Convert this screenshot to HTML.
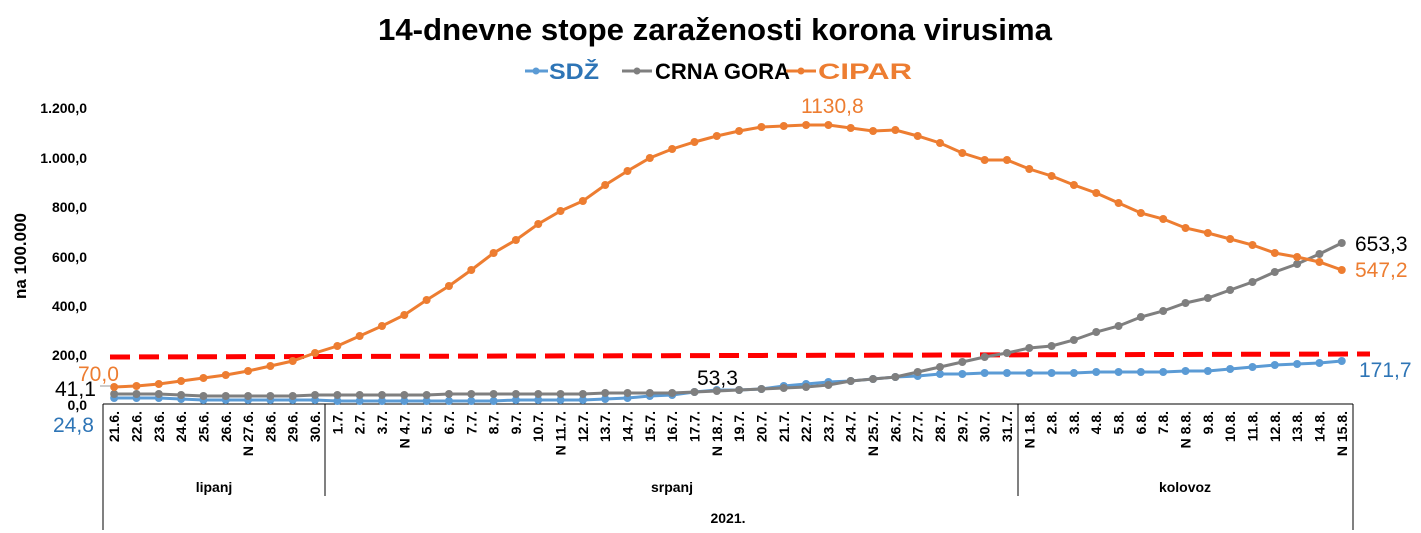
<!DOCTYPE html>
<html><head><meta charset="utf-8"><style>
html,body{margin:0;padding:0;background:#fff;}
svg{display:block;font-family:"Liberation Sans",sans-serif;}
</style></head><body>
<svg id="s" width="1421" height="533" viewBox="0 0 1421 533" xmlns="http://www.w3.org/2000/svg">
<text x="715" y="40" text-anchor="middle" font-size="31" font-weight="bold" textLength="674" lengthAdjust="spacingAndGlyphs">14-dnevne stope zaraženosti korona virusima</text>
<g font-size="22" font-weight="bold">
<line x1="525" y1="71" x2="548" y2="71" stroke="#5b9bd5" stroke-width="3"/><circle cx="536" cy="71" r="3.5" fill="#5b9bd5"/>
<text x="549" y="79" fill="#2e75b6" textLength="50" lengthAdjust="spacingAndGlyphs">SDŽ</text>
<line x1="622" y1="71" x2="652" y2="71" stroke="#7f7f7f" stroke-width="3"/><circle cx="637" cy="71" r="3.5" fill="#7f7f7f"/>
<text x="655" y="79" fill="#000" textLength="135" lengthAdjust="spacingAndGlyphs">CRNA GORA</text>
<line x1="786" y1="71" x2="816" y2="71" stroke="#ed7d31" stroke-width="3"/><circle cx="801" cy="71" r="3.5" fill="#ed7d31"/>
<text x="818" y="79" fill="#ed7d31" textLength="94" lengthAdjust="spacingAndGlyphs">CIPAR</text>
</g>
<g font-size="14" font-weight="bold" text-anchor="end">
<text x="87" y="113">1.200,0</text><text x="87" y="163">1.000,0</text><text x="87" y="212">800,0</text>
<text x="87" y="262">600,0</text><text x="87" y="311">400,0</text><text x="87" y="360">200,0</text><text x="87" y="410">0,0</text>
</g>
<text transform="translate(26,256) rotate(-90)" text-anchor="middle" font-size="17" font-weight="bold">na 100.000</text>
<g stroke="#000" stroke-width="1">
<line x1="103" y1="404" x2="1353" y2="404"/>
<line x1="103" y1="404" x2="103" y2="530"/>
<line x1="1353" y1="404" x2="1353" y2="530"/>
<line x1="325" y1="404" x2="325" y2="496"/>
<line x1="1018" y1="404" x2="1018" y2="496"/>
</g>
<g font-size="14" font-weight="bold" text-anchor="middle">
<text x="214" y="492">lipanj</text><text x="672" y="492">srpanj</text><text x="1185" y="492">kolovoz</text><text x="728" y="523">2021.</text>
</g>
<line x1="110" y1="357" x2="1370" y2="354" stroke="#ff0000" stroke-width="5" stroke-dasharray="20,9"/>
<g id="series"></g>
<g id="labels" font-size="14" font-weight="bold"></g>
<g font-size="21">
<text x="78" y="381" fill="#ed7d31">70,0</text>
<text x="55" y="396" fill="#000">41,1</text>
<text x="53" y="432" fill="#2e75b6">24,8</text>
<text x="697" y="385" fill="#000">53,3</text>
<text x="801" y="113" fill="#ed7d31">1130,8</text>
<text x="1355" y="251" fill="#000">653,3</text>
<text x="1355" y="277" fill="#ed7d31">547,2</text>
<text x="1359" y="377" fill="#2e75b6">171,7</text>
</g>
<line x1="100" y1="386" x2="111" y2="386" stroke="#999" stroke-width="1"/>
</svg>
<script>
var cip=[387,386,384,381,378,375,371,366,361,353,346,336,326,315,300,286,270,253,240,224,211,201,185,171,158,149,142,136,131,127,126,125,125,128,131,130,136,143,153,160,160,169,176,185,193,203,213,219,228,233,239,245,253,257,262,270];
var cg=[394,394,394,395,396,396,396,396,396,395,395,395,395,395,395,394,394,394,394,394,394,394,393,393,393,393,392,391,390,389,388,387,385,381,379,377,372,367,362,357,353,348,346,340,332,326,317,311,303,298,290,282,272,264,254,243];
var sd=[398,398,398,399,400,400,400,400,400,400,401,401,401,401,401,401,401,401,400,400,400,400,399,398,396,395,392,390,390,389,386,384,382,381,379,377,376,374,374,373,373,373,373,373,372,372,372,372,371,371,369,367,365,364,363,361];
var lab=[];
for(var d=21;d<=30;d++)lab.push(d+".6.");
for(var d=1;d<=31;d++)lab.push(d+".7.");
for(var d=1;d<=15;d++)lab.push(d+".8.");
var N={"27.6.":1,"4.7.":1,"11.7.":1,"18.7.":1,"25.7.":1,"1.8.":1,"8.8.":1,"15.8.":1};
function X(i){return 103+22.32*(i+0.5);}
var ns="http://www.w3.org/2000/svg",g=document.getElementById("series"),L=document.getElementById("labels");
function ser(a,c){var p=a.map(function(y,i){return X(i).toFixed(1)+","+y}).join(" ");
var pl=document.createElementNS(ns,"polyline");pl.setAttribute("points",p);pl.setAttribute("fill","none");pl.setAttribute("stroke",c);pl.setAttribute("stroke-width","3");g.appendChild(pl);
a.forEach(function(y,i){var ci=document.createElementNS(ns,"circle");ci.setAttribute("cx",X(i));ci.setAttribute("cy",y);ci.setAttribute("r","4");ci.setAttribute("fill",c);g.appendChild(ci);});}
ser(sd,"#5b9bd5");ser(cg,"#7f7f7f");ser(cip,"#ed7d31");
lab.forEach(function(t,i){var tx=document.createElementNS(ns,"text");var x=X(i)+5;
tx.setAttribute("transform","translate("+x+",411) rotate(-90)");tx.setAttribute("text-anchor","end");
tx.textContent=(N[t]?"N ":"")+t;L.appendChild(tx);});
</script>
</body></html>
